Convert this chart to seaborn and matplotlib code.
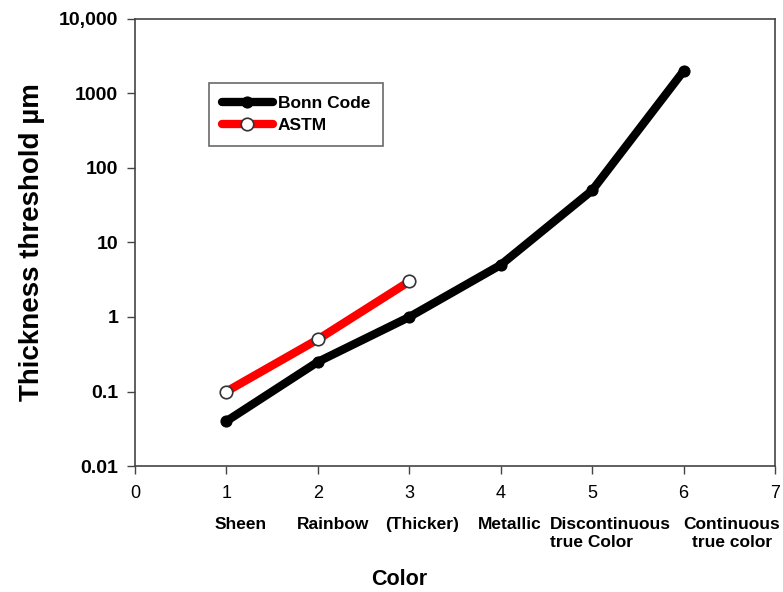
import seaborn as sns
import matplotlib.pyplot as plt
import pandas as pd

sns.set_style("ticks")
plt.rcParams['font.family'] = ['Liberation Sans', 'DejaVu Sans']
plt.rcParams.update({"text.color": "black", "axes.labelcolor": "black",
                     "xtick.color": "black", "ytick.color": "black"})

# data
bonn_x = [1, 2, 3, 4, 5, 6]
bonn_y = [0.04, 0.25, 1, 5, 50, 2000]
astm_x = [1, 2, 3]
astm_y = [0.1, 0.5, 3]
categories = ["Sheen", "Rainbow", "(Thicker)", "Metallic",
              "Discontinuous\ntrue Color", "Continuous\ntrue color"]
ytick_vals = [0.01, 0.1, 1, 10, 100, 1000, 10000]
ytick_labels = ["0.01", "0.1", "1", "10", "100", "1000", "10,000"]

bonn = pd.DataFrame({"x": bonn_x, "y": bonn_y})
astm = pd.DataFrame({"x": astm_x, "y": astm_y})

fig = plt.figure(figsize=(7.83, 5.92), dpi=100)
ax = fig.add_axes([0.1724, 0.2128, 0.8174, 0.7552])

sns.lineplot(data=bonn, x="x", y="y", ax=ax, color="black", linewidth=6,
             marker="o", markersize=8, markerfacecolor="black",
             markeredgecolor="black", label="Bonn Code",
             solid_capstyle="round", zorder=3)
sns.lineplot(data=astm, x="x", y="y", ax=ax, color="#ff0000", linewidth=6,
             marker="o", markersize=9, markerfacecolor="white",
             markeredgecolor="#333333", markeredgewidth=1.2, label="ASTM",
             solid_capstyle="round", zorder=4)

ax.set_yscale("log")
ax.set_ylim(0.01, 10000)
ax.set_xlim(0, 7)
ax.set_yticks(ytick_vals)
ax.set_yticklabels(ytick_labels, fontsize=14, fontweight="bold")
ax.minorticks_off()
ax.set_xticks(range(0, 8))
ax.set_xticklabels([str(i) for i in range(0, 8)], fontsize=13)
ax.tick_params(axis="both", direction="out", length=6, width=1)
ax.tick_params(axis="y", colors="black", color="#444444", pad=6)
ax.tick_params(axis="x", colors="black", color="#444444", pad=8)

for s in ax.spines.values():
    s.set_color("#444444")
    s.set_linewidth(1.2)

ax.set_xlabel("")
ax.set_ylabel("Thickness threshold µm", fontsize=20, fontweight="bold", labelpad=10)

# category labels sit slightly right of their tick, as in the reference
offsets = [0.15, 0.17, 0.14, 0.10, -0.46, 0.0]
aligns = [("center", "center")] * 4 + [("left", "left"), ("left", "center")]
for i, c in enumerate(categories):
    ha, ma = aligns[i]
    ax.text(i + 1 + offsets[i], -0.115, c, transform=ax.get_xaxis_transform(),
            ha=ha, va="top", multialignment=ma, fontsize=12.5,
            fontweight="bold", linespacing=1.25)

fig.text(0.51, 0.012, "Color", ha="center", va="baseline", fontsize=15.5,
         fontweight="bold")

leg = ax.legend(loc="upper left", bbox_to_anchor=(0.1156, 0.857), frameon=True,
                fancybox=False, edgecolor="#444444", fontsize=12.5,
                handlelength=2.9, borderpad=0.76, labelspacing=0.36,
                handletextpad=0.3, borderaxespad=0)
for t in leg.get_texts():
    t.set_fontweight("bold")
leg.get_frame().set_linewidth(1.2)

fig.savefig("out.png", dpi=100)
plt.close()
